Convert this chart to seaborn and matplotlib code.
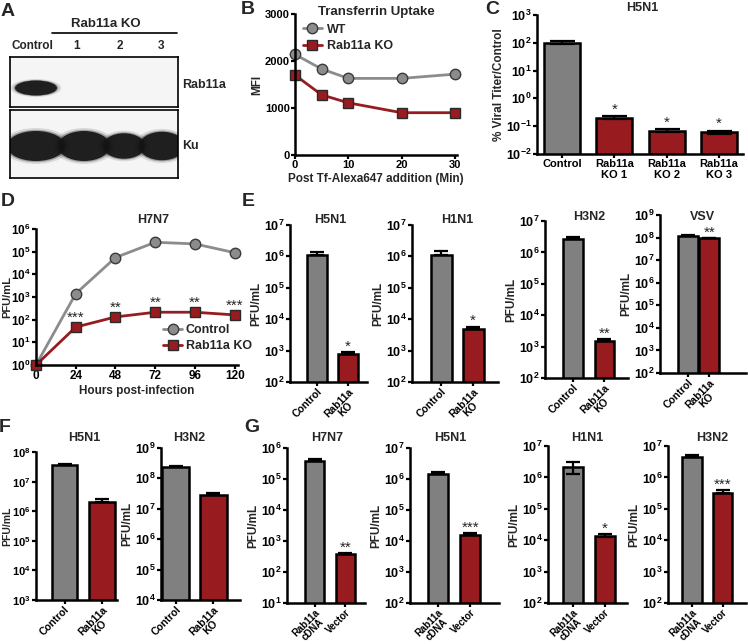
import numpy as np
import pandas as pd
import matplotlib
matplotlib.use('Agg')
import matplotlib.pyplot as plt
import seaborn as sns
from matplotlib.patches import Ellipse
from matplotlib.lines import Line2D
from matplotlib.ticker import FixedLocator, FuncFormatter, NullLocator

sns.set_theme(style='ticks')
plt.rcParams['font.family'] = ['Liberation Sans', 'DejaVu Sans']
plt.rcParams['font.weight'] = 'bold'
plt.rcParams['axes.labelweight'] = 'bold'
plt.rcParams['axes.titleweight'] = 'bold'
plt.rcParams['mathtext.fontset'] = 'custom'
for k in ['rm', 'it', 'bf', 'sf']:
    plt.rcParams['mathtext.' + k] = 'Liberation Sans:bold'

GRAY = '#808080'
RED = '#981C1F'

# ---------------- data ----------------
# A: western blot (relative band signal per lane)
blot_lanes = ['Control', '1', '2', '3']
rab11a_signal = [1.0, 0.0, 0.0, 0.0]
ku_signal = [1.0, 1.0, 0.85, 0.95]

# B: transferrin uptake
tf_time = [0, 5, 10, 20, 30]
tf_wt = [2140, 1830, 1630, 1630, 1720]
tf_ko = [1700, 1280, 1110, 900, 900]

# C: H5N1 % viral titer / control
c_labels = ['Control', 'Rab11a\nKO 1', 'Rab11a\nKO 2', 'Rab11a\nKO 3']
c_vals = [100, 0.20, 0.069, 0.060]
c_err = [12, 0.025, 0.008, 0.009]
c_stars = ['', '*', '*', '*']

# D: H7N7 growth curve
d_hours = [0, 24, 48, 72, 96, 120]
d_control = [1, 1.4e3, 5.5e4, 2.6e5, 2.2e5, 9.0e4]
d_ko = [1, 47, 132, 213, 213, 162]
d_stars = ['', '***', '**', '**', '**', '***']

ko_labels = ['Control', 'Rab11a\nKO']
rescue_labels = ['Rab11a\ncDNA', 'Vector']

# E
e_h5n1 = [1.1e6, 790]
e_h5n1_err = [0.28e6, 110]
e_h1n1 = [1.12e6, 5000]
e_h1n1_err = [0.38e6, 800]
e_h3n2 = [2.6e6, 1500]
e_h3n2_err = [0.5e6, 200]
e_vsv = [1.23e8, 9.2e7]
e_vsv_err = [0.08e8, 0.6e7]

# F
f_h5n1 = [3.5e7, 2.1e6]
f_h5n1_err = [0.4e7, 0.4e6]
f_h3n2 = [2.3e8, 2.9e7]
f_h3n2_err = [0.3e8, 0.3e7]

# G
g_h7n7 = [3.8e5, 370]
g_h7n7_err = [0.7e5, 50]
g_h5n1 = [1.5e6, 1.6e4]
g_h5n1_err = [0.2e6, 0.2e4]
g_h1n1 = [2.2e6, 1.4e4]
g_h1n1_err = [0.9e6, 0.15e4]
g_h3n2 = [4.6e6, 3.3e5]
g_h3n2_err = [0.6e6, 0.6e5]

# ---------------- figure ----------------
W, H = 748, 644
fig = plt.figure(figsize=(W / 100, H / 100), dpi=100, facecolor='white')


def add_ax(l, t, r, b):
    return fig.add_axes([l / W, 1 - b / H, (r - l) / W, (b - t) / H])


def ftext(x, y, s, **kw):
    kw.setdefault('ha', 'center')
    kw.setdefault('va', 'center')
    return fig.text(x / W, 1 - y / H, s, **kw)


def prism(ax, labelsize=9, ylabel='PFU/mL', ylabelsize=8.5):
    for s in ['top', 'right']:
        ax.spines[s].set_visible(False)
    for s in ['left', 'bottom']:
        ax.spines[s].set_linewidth(1.8)
        ax.spines[s].set_color('black')
    ax.tick_params(direction='out', length=3, width=1.6, labelsize=labelsize,
                   colors='black', pad=0.8)
    ax.grid(False)
    ax.set_facecolor('none')
    ax.set_xlabel('')
    ax.set_ylabel(ylabel, fontsize=ylabelsize, labelpad=1)


def log_axis(ax, lo, hi):
    ax.set_yscale('log')
    ax.set_ylim(10.0 ** lo, 10.0 ** hi)
    ax.yaxis.set_major_locator(FixedLocator([10.0 ** k for k in range(lo, hi + 1)]))
    ax.yaxis.set_major_formatter(
        FuncFormatter(lambda v, p: r'$\mathbf{10^{%d}}$' % int(round(np.log10(v)))))
    ax.yaxis.set_minor_locator(NullLocator())


def bar_panel(box, labels, vals, err_hi, err_lo, lo, hi, xlim, width,
              stars=None, rotate=True, capsize=5, star_off=1.0,
              ylabel='PFU/mL', xfs=7.5):
    ax = add_ax(*box)
    df = pd.DataFrame({'group': labels, 'value': vals})
    pal = [GRAY] + [RED] * (len(vals) - 1)
    sns.barplot(data=df, x='group', y='value', hue='group', palette=pal,
                legend=False, width=width, edgecolor='black', linewidth=1.8,
                errorbar=None, saturation=1, ax=ax)
    log_axis(ax, lo, hi)
    xs = np.arange(len(vals))
    ax.errorbar(xs, vals, yerr=[err_lo, err_hi], fmt='none', ecolor='black',
                elinewidth=1.6, capsize=capsize, capthick=1.6, zorder=4)
    ax.set_xlim(*xlim)
    prism(ax, ylabel=ylabel)
    ax.set_xticks(xs)
    if rotate:
        ax.set_xticklabels(labels, rotation=45, ha='right', va='top',
                           rotation_mode='anchor', multialignment='center',
                           fontsize=xfs, linespacing=0.95)
        ax.tick_params(axis='x', pad=0.3)
    else:
        ax.set_xticklabels(labels, fontsize=8, linespacing=1.1)
    if stars:
        for x, v, e, s in zip(xs, vals, err_hi, stars):
            if s:
                ax.annotate(s, xy=(x, v + e), xytext=(0, star_off),
                            textcoords='offset points', ha='center',
                            va='baseline', fontsize=11, fontweight='normal')
    return ax


def pin_ylabel(ax, box, right_px):
    l, t, r, b = box
    ax.yaxis.set_label_coords((right_px - l) / (r - l), 0.5)


# ---------------- A: blot ----------------
lane_x = [28, 76, 116, 154]
blot1 = add_ax(10, 57, 178, 107)
blot2 = add_ax(10, 110, 178, 178)
for bax, sig, yc, hh, ww in [(blot1, rab11a_signal, 31, 15, [42, 0, 0, 0]),
                             (blot2, ku_signal, 36, 30, [58, 52, 42, 46])]:
    bax.set_xlim(0, 168)
    bax.set_ylim(bax.get_position().height * H, 0)
    bax.set_facecolor('#f5f5f5')
    bax.set_xticks([])
    bax.set_yticks([])
    for s in bax.spines.values():
        s.set_linewidth(1.2)
        s.set_color('black')
    for i, (x, v) in enumerate(zip(lane_x, sig)):
        if v <= 0:
            continue
        w = ww[i]
        h = hh * v
        for k, a in [(1.2, 0.12), (1.08, 0.3), (1.0, 0.92)]:
            bax.add_patch(Ellipse((x - 2, yc), w * k, h * k,
                                  color='#141414', alpha=a, lw=0))
ftext(8, 12, 'A', fontsize=14)
ftext(106, 24, 'Rab11a KO', fontsize=9.5)
fig.add_artist(Line2D([52 / W, 177 / W], [1 - 33 / H] * 2, color='black', lw=1.2))
for lab, x in zip(blot_lanes, [32, 77, 120, 161]):
    ftext(x, 46, lab, fontsize=8.5)
ftext(182, 85, 'Rab11a', fontsize=9, ha='left')
ftext(182, 146, 'Ku', fontsize=9, ha='left')

# ---------------- B ----------------
axb = add_ax(295, 14, 457, 155)
sns.lineplot(x=tf_time, y=tf_wt, ax=axb, color='#8c8c8c', lw=2, marker='o',
             markersize=7.5, markerfacecolor='#8c8c8c', markeredgecolor='#3a3a3a',
             markeredgewidth=1, label='WT')
sns.lineplot(x=tf_time, y=tf_ko, ax=axb, color=RED, lw=2, marker='s',
             markersize=7, markerfacecolor=RED, markeredgecolor='#2a2a2a',
             markeredgewidth=1, label='Rab11a KO')
axb.set_xlim(0, 30.4)
axb.set_ylim(0, 3000)
axb.set_xticks([0, 10, 20, 30])
axb.set_yticks([0, 1000, 2000, 3000])
prism(axb, labelsize=8, ylabel='MFI', ylabelsize=8.5)
axb.set_xlabel('Post Tf-Alexa647 addition (Min)', fontsize=8.5, labelpad=2)
for ln in axb.lines:
    ln.set_clip_on(False)
axb.legend(loc='upper left', bbox_to_anchor=(0.05, 0.93), frameon=False,
           fontsize=9, handlelength=1.5, handletextpad=0.4, labelspacing=0.35,
           borderpad=0, borderaxespad=0)
ftext(248, 10, 'B', fontsize=14)
ftext(376, 12, 'Transferrin Uptake', fontsize=9.5)

# ---------------- C ----------------
axc = bar_panel((537, 15, 743, 154), c_labels, c_vals, c_err, c_err, -2, 3,
                (-0.48, 3.46), 0.69, stars=c_stars, rotate=False, capsize=9,
                star_off=2, ylabel='% Viral Titer/Control')
ftext(492, 10, 'C', fontsize=14)
ftext(642, 8, 'H5N1', fontsize=9)

# ---------------- D ----------------
d_box = (36, 229, 238, 365)
axd = add_ax(*d_box)
sns.lineplot(x=d_hours, y=d_control, ax=axd, color='#8c8c8c', lw=2, marker='o',
             markersize=7.5, markerfacecolor='#8c8c8c', markeredgecolor='#3a3a3a',
             markeredgewidth=1, label='Control')
sns.lineplot(x=d_hours, y=d_ko, ax=axd, color=RED, lw=2, marker='s',
             markersize=7, markerfacecolor=RED, markeredgecolor='#2a2a2a',
             markeredgewidth=1, label='Rab11a KO')
log_axis(axd, 0, 6)
axd.set_xlim(0, 122)
axd.set_xticks(d_hours)
prism(axd, labelsize=8.5, ylabelsize=8)
pin_ylabel(axd, d_box, 12)
axd.set_xlabel('Hours post-infection', fontsize=8.5, labelpad=2)
for ln in axd.lines:
    ln.set_clip_on(False)
for x, v, s in zip(d_hours, d_ko, d_stars):
    if s:
        axd.annotate(s, xy=(x, v), xytext=(0, 4), textcoords='offset points',
                     ha='center', va='baseline', fontsize=11, fontweight='normal')
axd.legend(loc='upper left', bbox_to_anchor=(0.63, 0.30), frameon=False,
           fontsize=9, handlelength=1.5, handletextpad=0.3, labelspacing=0.3,
           borderpad=0, borderaxespad=0)
ftext(8, 202, 'D', fontsize=14)
ftext(153, 220, 'H7N7', fontsize=9)

# ---------------- E ----------------
ftext(248, 202, 'E', fontsize=14)
z2 = [0, 0]
bar_panel((290, 225, 367, 382), ko_labels, e_h5n1, e_h5n1_err, z2, 2, 7,
          (-0.87, 1.61), 0.65, stars=['', '*'])
bar_panel((412, 225, 498, 382), ko_labels, e_h1n1, e_h1n1_err, z2, 2, 7,
          (-0.91, 1.78), 0.66, stars=['', '*'])
bar_panel((545, 221, 628, 378), ko_labels, e_h3n2, e_h3n2_err, z2, 2, 7,
          (-0.89, 1.75), 0.63, stars=['', '**'])
bar_panel((660, 215, 746, 373), ko_labels, e_vsv, e_vsv_err, z2, 2, 9,
          (-1.3, 2.7), 0.93, stars=['', '**'])
for x, y, s in [(330, 220, 'H5N1'), (457, 220, 'H1N1'), (589, 217, 'H3N2'),
                (702, 217, 'VSV')]:
    ftext(x, y, s, fontsize=9)

# ---------------- F ----------------
ftext(5, 428, 'F', fontsize=14)
f1_box = (36, 452, 117, 600)
axf1 = bar_panel(f1_box, ko_labels, f_h5n1, f_h5n1_err, z2, 3, 8,
                 (-0.76, 1.4), 0.68)
axf1.tick_params(axis='y', labelsize=8)
axf1.set_ylabel('PFU/mL', fontsize=7.5, labelpad=1)
pin_ylabel(axf1, f1_box, 12)
bar_panel((161, 448, 240, 600), ko_labels, f_h3n2, f_h3n2_err, z2, 4, 9,
          (-0.39, 1.71), 0.71)
ftext(84, 438, 'H5N1', fontsize=9)
ftext(189, 438, 'H3N2', fontsize=9)

# ---------------- G ----------------
ftext(252, 428, 'G', fontsize=14)
bar_panel((287, 448, 365, 603), rescue_labels, g_h7n7, g_h7n7_err, z2, 1, 6,
          (-0.89, 1.63), 0.63, stars=['', '**'], xfs=7)
bar_panel((410, 448, 499, 603), rescue_labels, g_h5n1, g_h5n1_err, z2, 2, 7,
          (-0.875, 1.9), 0.63, stars=['', '***'], xfs=7)
bar_panel((548, 446, 627, 603), rescue_labels, g_h1n1, g_h1n1_err, g_h1n1_err, 2, 7,
          (-0.79, 1.71), 0.63, stars=['', '*'], xfs=7)
bar_panel((668, 446, 746, 603), rescue_labels, g_h3n2, g_h3n2_err, z2, 2, 7,
          (-0.79, 1.77), 0.64, stars=['', '***'], xfs=7)
for x, s in [(327, 'H7N7'), (450, 'H5N1'), (587, 'H1N1'), (712, 'H3N2')]:
    ftext(x, 438, s, fontsize=9)

fig.savefig('out.png', dpi=100, facecolor='white')
